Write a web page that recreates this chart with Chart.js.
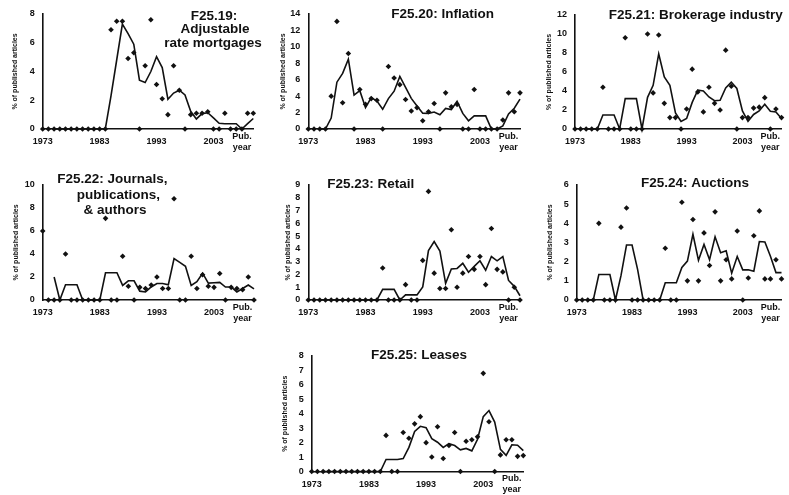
<!DOCTYPE html>
<html>
<head>
<meta charset="utf-8">
<script src="https://cdn.jsdelivr.net/npm/chart.js@4.4.1/dist/chart.umd.min.js"></script>
<style>
  html, body { margin: 0; padding: 0; background: #fff; }
  #page { position: relative; width: 789px; height: 495px; overflow: hidden; background: #fff; }
  #page canvas { position: absolute; }
</style>
</head>
<body>
<div id="page"></div>
<script>
'use strict';

// DATA
// ====
var years = [1973, 1974, 1975, 1976, 1977, 1978, 1979, 1980, 1981, 1982,
             1983, 1984, 1985, 1986, 1987, 1988, 1989, 1990, 1991, 1992,
             1993, 1994, 1995, 1996, 1997, 1998, 1999, 2000, 2001, 2002,
             2003, 2004, 2005, 2006, 2007, 2008, 2009, 2010];
var tickYears = [1973, 1983, 1993, 2003];
var pubYear = 2008;
var pubLabel = ['Pub.', 'year'];
var yLabel = '% of published articles';

// dots = yearly share, avg = 3-year moving average line
var armDots = [0, 0, 0, 0, 0, 0, 0, 0, 0, 0, 0, 0, 6.9, 7.5, 7.5, 4.9, 5.3, 0, 4.4, 7.6,
               3.1, 2.1, 1.0, 4.4, 2.7, 0, 1.0, 1.1, 1.1, 1.2, 0, 0, 1.1, 0, 0, 0, 1.1, 1.1];
var armAvg = [null, null, 0, 0, 0, 0, 0, 0, 0, 0, 0, 0, 2.3, 4.8, 7.3, 6.63, 5.9, 3.4, 3.23, 4.0,
              5.03, 4.27, 2.07, 2.5, 2.7, 2.37, 1.23, 0.7, 1.07, 1.13, 0.77, 0.4, 0.37, 0.37, 0.37, 0, 0.37, 0.73];

var inflationDots = [0, 0, 0, 0, 4.0, 13.1, 3.2, 9.2, 0, 4.8, 3.0, 3.7, 3.5, 0, 7.6, 6.2, 5.4, 3.6, 2.2, 2.6,
                     1.0, 2.1, 3.1, 0, 4.4, 2.7, 3.0, 0, 0, 4.8, 0, 0, 0, 0, 1.1, 4.4, 2.1, 4.4];
var inflationAvg = [null, null, 0, 0, 1.33, 5.7, 6.77, 8.5, 4.13, 4.67, 2.6, 3.83, 3.4, 2.4, 3.7, 4.6, 6.4, 5.07, 3.73, 2.8,
                    1.93, 1.9, 2.07, 1.73, 2.5, 2.37, 3.37, 1.9, 1.0, 1.6, 1.6, 1.6, 0, 0, 0.37, 1.83, 2.53, 3.63];

var brokerageDots = [0, 0, 0, 0, 0, 4.4, 0, 0, 0, 9.6, 0, 0, 0, 10.0, 3.8, 9.9, 2.7, 1.2, 1.2, 0,
                     2.1, 6.3, 3.9, 1.8, 4.4, 2.7, 2.0, 8.3, 4.5, 0, 1.2, 1.2, 2.2, 2.3, 3.3, 0, 2.1, 1.2];
var brokerageAvg = [null, null, 0, 0, 0, 1.47, 1.47, 1.47, 0, 3.2, 3.2, 3.2, 0, 3.33, 4.6, 7.9, 5.47, 4.6, 1.7, 0.8,
                    1.1, 2.8, 4.1, 4.0, 3.37, 2.97, 3.03, 4.33, 4.93, 4.27, 1.9, 0.8, 1.53, 1.9, 2.6, 1.87, 1.8, 1.1];

var journalsDots = [6.0, 0, 0, 0, 4.0, 0, 0, 0, 0, 0, 0, 7.1, 0, 0, 3.8, 1.2, 0, 1.1, 1.0, 1.3,
                    2.0, 1.0, 1.0, 8.8, 0, 0, 3.8, 1.0, 2.2, 1.2, 1.1, 2.3, 0, 1.1, 1.0, 0.9, 2.0, 0];
var journalsAvg = [null, null, 2.0, 0, 1.33, 1.33, 1.33, 0, 0, 0, 0, 2.37, 2.37, 2.37, 1.27, 1.67, 1.67, 0.77, 0.7, 1.13,
                   1.43, 1.43, 1.33, 3.6, 3.27, 2.93, 1.27, 1.6, 2.33, 1.47, 1.5, 1.53, 1.13, 1.13, 0.7, 1.0, 1.3, 0.97];

var retailDots = [0, 0, 0, 0, 0, 0, 0, 0, 0, 0, 0, 0, 0, 2.5, 0, 0, 0, 1.2, 0, 0,
                  3.1, 8.5, 2.1, 0.9, 0.9, 5.5, 1.0, 2.1, 3.4, 2.4, 3.4, 1.2, 5.6, 2.4, 2.2, 0, 1.0, 0];
var retailAvg = [null, null, 0, 0, 0, 0, 0, 0, 0, 0, 0, 0, 0, 0.83, 0.83, 0.83, 0, 0.4, 0.4, 0.4,
                 1.03, 3.87, 4.57, 3.83, 1.3, 2.43, 2.47, 2.87, 2.17, 2.63, 3.07, 2.33, 3.4, 3.07, 3.4, 1.53, 1.07, 0.33];

var auctionsDots = [0, 0, 0, 0, 4.0, 0, 0, 0, 3.8, 4.8, 0, 0, 0, 0, 0, 0, 2.7, 0, 0, 5.1,
                    1.0, 4.2, 1.0, 3.5, 1.8, 4.6, 1.0, 2.1, 1.1, 3.6, 0, 1.15, 3.35, 4.65, 1.1, 1.1, 2.1, 1.1];
var auctionsAvg = [null, null, 0, 0, 1.33, 1.33, 1.33, 0, 1.27, 2.87, 2.87, 1.6, 0, 0, 0, 0, 0.9, 0.9, 0.9, 1.7,
                   2.03, 3.43, 2.07, 2.9, 2.1, 3.3, 2.47, 2.57, 1.4, 2.27, 1.57, 1.58, 1.5, 3.05, 3.03, 2.28, 1.43, 1.43];

var leasesDots = [0, 0, 0, 0, 0, 0, 0, 0, 0, 0, 0, 0, 0, 2.5, 0, 0, 2.7, 2.3, 3.3, 3.8,
                  2.0, 1.0, 3.1, 0.9, 1.8, 2.7, 0, 2.1, 2.2, 2.4, 6.8, 3.45, 0, 1.15, 2.2, 2.2, 1.05, 1.1];
var leasesAvg = [null, null, 0, 0, 0, 0, 0, 0, 0, 0, 0, 0, 0, 0.83, 0.83, 0.83, 0.9, 1.67, 2.77, 3.13,
                 3.03, 2.27, 2.03, 1.67, 1.93, 1.8, 1.5, 1.6, 1.43, 2.23, 3.8, 4.22, 3.42, 1.53, 1.12, 1.85, 1.82, 1.45];


// PANEL LAYOUT
// ============
// box = canvas [left, top, width, height], area = plot [left, top, right, bottom] in page px
var panels = [
    { dots: armDots, avg: armAvg, max: 8, step: 2,
      box: [0, 0, 262, 162], area: [42.7, 14, 253.3, 129], yTitleX: 15,
      title: [['F25.19:', 214, 16], ['Adjustable', 215, 29.5], ['rate mortgages', 213, 43]] },
    { dots: inflationDots, avg: inflationAvg, max: 14, step: 2,
      box: [262, 0, 266, 162], area: [308.3, 14, 520, 129], yTitleX: 283,
      title: [['F25.20: Inflation', 442.7, 14.7]] },
    { dots: brokerageDots, avg: brokerageAvg, max: 12, step: 2,
      box: [528, 0, 261, 162], area: [575, 15, 786.7, 129], yTitleX: 549,
      title: [['F25.21: Brokerage industry', 695.7, 15]] },
    { dots: journalsDots, avg: journalsAvg, max: 10, step: 2,
      box: [0, 163, 262, 170], area: [42.7, 185, 254, 300], yTitleX: 16,
      title: [['F25.22: Journals,', 112.3, 179.5], ['publications,', 118.3, 195], ['& authors', 115, 210.7]] },
    { dots: retailDots, avg: retailAvg, max: 9, step: 1,
      box: [262, 163, 266, 170], area: [308.3, 185, 520, 300], yTitleX: 288,
      title: [['F25.23: Retail', 370.8, 184.7]] },
    { dots: auctionsDots, avg: auctionsAvg, max: 6, step: 1,
      box: [528, 163, 261, 170], area: [576.7, 185, 786.7, 300], yTitleX: 550,
      title: [['F25.24: Auctions', 695, 183.3]] },
    { dots: leasesDots, avg: leasesAvg, max: 8, step: 1,
      box: [262, 337, 270, 158], area: [311.7, 356, 523.3, 471.5], yTitleX: 285,
      title: [['F25.25: Leases', 419, 355]] }
];

var ink = '#111';
var family = '"Liberation Sans", Arial, Helvetica, sans-serif';


// PLUGINS
// =======
var panelTitle = {
    id: 'panelTitle',
    afterDraw: function (chart, args, opts) {
        var ctx = chart.ctx;
        ctx.save();
        ctx.font = 'bold 13.5px ' + family;
        ctx.fillStyle = ink;
        ctx.textAlign = 'center';
        ctx.textBaseline = 'middle';
        opts.lines.forEach(function (l) {
            ctx.fillText(l[0], l[1] - opts.dx, l[2] - opts.dy);
        });
        ctx.restore();
    }
};


// CHARTS
// ======
var page = document.getElementById('page');

var makePanel = function (p) {
    var canvas = document.createElement('canvas');
    canvas.width = p.box[2];
    canvas.height = p.box[3];
    canvas.style.left = p.box[0] + 'px';
    canvas.style.top = p.box[1] + 'px';
    page.appendChild(canvas);

    var yWidth = p.area[0] - p.box[0];
    var xHeight = p.box[1] + p.box[3] - p.area[3];
    var yTitleSize = 7;

    new Chart(canvas, {
        type: 'line',
        data: {
            labels: years,
            datasets: [{
                data: p.avg,
                borderColor: ink,
                borderWidth: 1.6,
                pointRadius: 0,
                fill: false,
                tension: 0,
                spanGaps: false,
                clip: false
            }, {
                data: p.dots,
                showLine: false,
                pointStyle: 'rectRot',
                pointRadius: 2.8,
                pointBackgroundColor: ink,
                pointBorderColor: ink,
                pointBorderWidth: 0,
                clip: false
            }]
        },
        options: {
            responsive: false,
            animation: false,
            events: [],
            layout: {
                padding: {
                    left: 0,
                    top: p.area[1] - p.box[1],
                    right: p.box[0] + p.box[2] - p.area[2],
                    bottom: 0
                }
            },
            plugins: {
                legend: { display: false },
                tooltip: { enabled: false },
                panelTitle: { lines: p.title, dx: p.box[0], dy: p.box[1] }
            },
            scales: {
                x: {
                    type: 'category',
                    offset: false,
                    grid: { display: false, drawTicks: false },
                    border: { display: true, color: ink, width: 1.6 },
                    ticks: {
                        autoSkip: false,
                        maxRotation: 0,
                        minRotation: 0,
                        crossAlign: 'center',
                        padding: 7.5,
                        color: ink,
                        font: { family: family, size: 9, weight: 'bold', lineHeight: 1.2 },
                        callback: function (value, index) {
                            var yr = years[index];
                            if (yr === pubYear) return pubLabel;
                            return tickYears.indexOf(yr) >= 0 ? String(yr) : '';
                        }
                    },
                    afterFit: function (scale) { scale.height = xHeight; }
                },
                y: {
                    min: 0,
                    max: p.max,
                    grid: { display: false, drawTicks: false },
                    border: { display: true, color: ink, width: 1.6 },
                    ticks: {
                        stepSize: p.step,
                        autoSkip: false,
                        maxTicksLimit: 20,
                        padding: 8,
                        color: ink,
                        font: { family: family, size: 9, weight: 'bold' }
                    },
                    title: {
                        display: true,
                        text: yLabel,
                        color: ink,
                        font: { family: family, size: yTitleSize, weight: 'bold', lineHeight: 1.2 },
                        padding: { top: p.yTitleX - p.box[0] - yTitleSize * 1.2 / 2, bottom: 0 }
                    },
                    afterFit: function (scale) { scale.width = yWidth; }
                }
            }
        },
        plugins: [panelTitle]
    });
};

panels.forEach(makePanel);
</script>
</body>
</html>
